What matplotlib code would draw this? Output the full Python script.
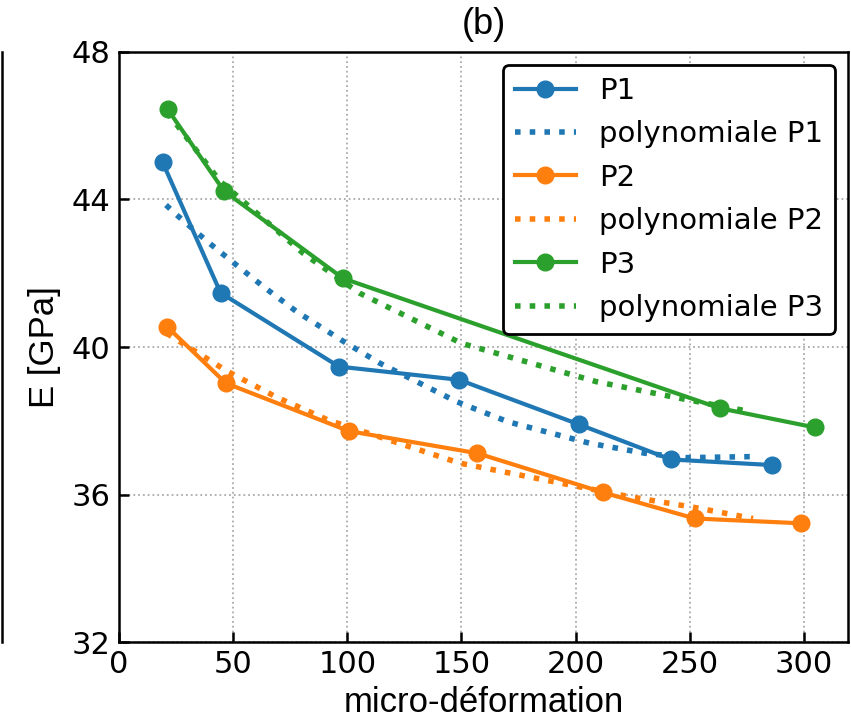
import matplotlib
matplotlib.use("Agg")
import matplotlib.pyplot as plt
from matplotlib.lines import Line2D

# Measured data
p1_x = [19.1, 44.5, 96.3, 149.0, 201.5, 241.7, 285.8]
p1_y = [45.01, 41.47, 39.47, 39.11, 37.90, 36.95, 36.80]
p2_x = [21.1, 46.8, 100.7, 156.9, 211.8, 252.2, 298.6]
p2_y = [40.55, 39.02, 37.72, 37.12, 36.06, 35.35, 35.22]
p3_x = [21.3, 46.0, 98.2, 263.1, 304.7]
p3_y = [46.45, 44.23, 41.86, 38.34, 37.82]

# Polynomial trend curves
fit1_x = [20.6, 25.3, 39.1, 53.7, 63.2, 77.8, 98.9, 114.3, 147.8, 170.5, 206.2, 230.3, 248.5, 279.2]
fit1_y = [43.85, 43.58, 42.84, 42.11, 41.64, 40.96, 40.13, 39.56, 38.52, 37.97, 37.39, 37.12, 37.00, 37.03]
fit2_x = [20.9, 47.2, 69.0, 91.6, 149.3, 223.7, 252.9, 277.7]
fit2_y = [40.37, 39.35, 38.64, 38.02, 36.85, 35.94, 35.64, 35.35]
fit3_x = [21.3, 44.2, 80.7, 105.4, 150.0, 209.1, 245.6, 276.3]
fit3_y = [46.35, 44.50, 42.54, 41.46, 40.10, 39.06, 38.61, 38.25]

xticks = [0, 50, 100, 150, 200, 250, 300]
yticks = [32, 36, 40, 44, 48]

c1, c2, c3 = "#1f77b4", "#ff7f0e", "#2ca02c"

fig = plt.figure(figsize=(8.51, 7.18), dpi=100)
ax = fig.add_axes([0.1398, 0.1058, 0.9965 - 0.1398, 0.9276 - 0.1058])

lw, ms, dlw = 3, 12, 4
ax.plot(p1_x, p1_y, "-o", color=c1, lw=lw, ms=ms, label="P1")
ax.plot(fit1_x, fit1_y, ":", color=c1, lw=dlw, label="polynomiale P1")
ax.plot(p2_x, p2_y, "-o", color=c2, lw=lw, ms=ms, label="P2")
ax.plot(fit2_x, fit2_y, ":", color=c2, lw=dlw, label="polynomiale P2")
ax.plot(p3_x, p3_y, "-o", color=c3, lw=lw, ms=ms, label="P3")
ax.plot(fit3_x, fit3_y, ":", color=c3, lw=dlw, label="polynomiale P3")

ax.set_xlim(0, 319.3)
ax.set_ylim(32, 48)
ax.set_xticks(xticks)
ax.set_yticks(yticks)
ax.grid(True, linestyle=":", color="#aaaaaa", lw=1.3)
ax.tick_params(direction="in", length=7, width=1.8, labelsize=22, pad=6)
for s in ax.spines.values():
    s.set_linewidth(1.8)

ax.set_xlabel("micro-déformation", fontsize=25, family="Liberation Sans", labelpad=5)
ax.set_ylabel("E [GPa]", fontsize=25, family="Liberation Sans", labelpad=8)
ax.set_title("(b)", fontsize=26, family="Liberation Sans", pad=13)

leg = ax.legend(loc="upper right", fontsize=21, frameon=True, fancybox=True,
                edgecolor="black", framealpha=1, handlelength=2.1, labelspacing=0.53,
                borderaxespad=0.45)
leg.get_frame().set_linewidth(2)

fig.add_artist(Line2D([0.002, 0.002], [1 - 52 / 718, 1 - 642 / 718], color="black", lw=1.8,
                      transform=fig.transFigure))

fig.savefig("out.png", dpi=100)
